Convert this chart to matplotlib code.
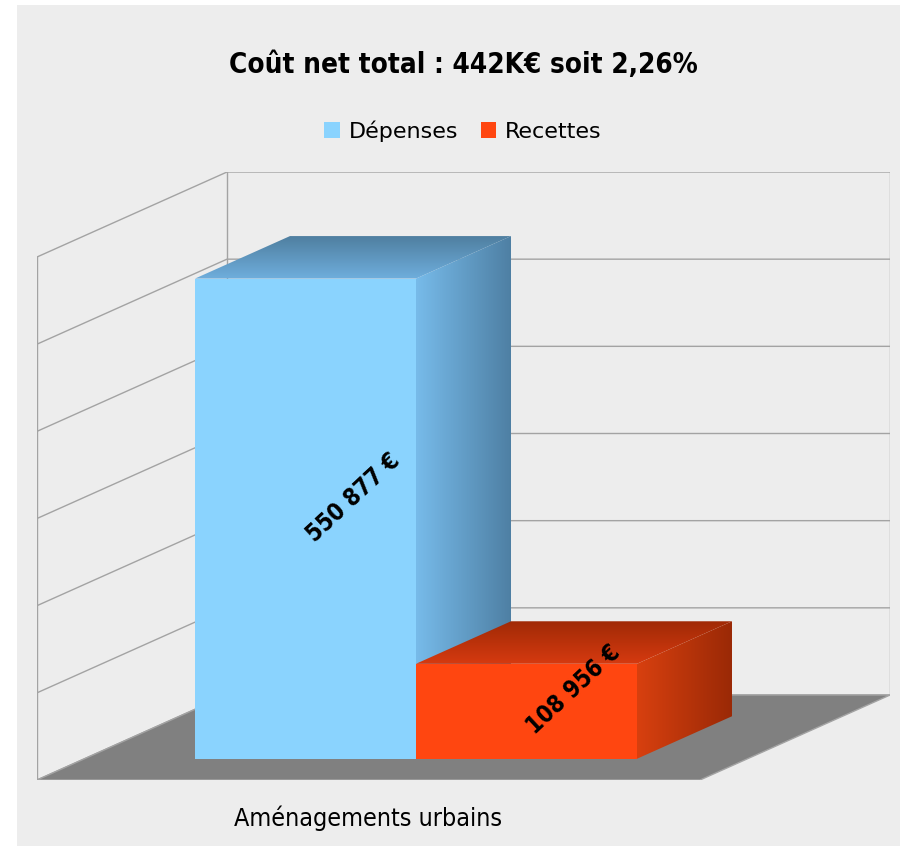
import numpy as np
import matplotlib.pyplot as plt
from matplotlib.patches import Polygon, Rectangle, Patch
from matplotlib.colors import LinearSegmentedColormap

title = 'Coût net total : 442K€ soit 2,26%'
category = 'Aménagements urbains'
series = ['Dépenses', 'Recettes']
values = [550877, 108956]
value_labels = ['550 877 €', '108 956 €']

front_colors = ['#8AD3FE', '#FF4610']
top_colors = [('#6FAEDD', '#4F7FA0'), ('#D63A10', '#A02A06')]
side_colors = [('#77BBEA', '#4E7FA3'), ('#D8400F', '#9A2906')]

ymax = 600000
ystep = 100000
DX = 190 / 663          # depth offset of the floor, in category units
DY = ymax * 85 / 523    # depth offset of the floor, in value units
BG = '#EDEDED'
GRID = '#A3A3A3'

plt.rcParams['font.family'] = ['DejaVu Sans']

fig = plt.figure(figsize=(9, 8.46), dpi=100, facecolor=BG)
fig.patches.append(Rectangle((0, 0), 17 / 900, 1, transform=fig.transFigure,
                             facecolor='white', edgecolor='none'))
fig.patches.append(Rectangle((0, 1 - 5 / 846), 1, 5 / 846, transform=fig.transFigure,
                             facecolor='white', edgecolor='none'))

ax = fig.add_axes([37 / 900, 66 / 846, 853 / 900, 608 / 846])
ax.set_facecolor('none')
ax.axis('off')


def P(x, v, d):
    return (x + d * DX, v + d * DY)


def grad_fill(verts, c0, c1, direction, z):
    poly = Polygon(verts, closed=True, facecolor='none', edgecolor='none', zorder=z)
    ax.add_patch(poly)
    xs = [p[0] for p in verts]
    ys = [p[1] for p in verts]
    if direction == 'x':
        arr = np.linspace(0, 1, 256)[None, :]
    else:
        arr = np.linspace(0, 1, 256)[:, None]
    cmap = LinearSegmentedColormap.from_list('g', [c0, c1])
    im = ax.imshow(arr, cmap=cmap, extent=(min(xs), max(xs), min(ys), max(ys)),
                   origin='lower', aspect='auto', interpolation='bilinear', zorder=z)
    im.set_clip_path(poly)


# walls + gridlines
for g in range(0, ymax + 1, ystep):
    a, b, c = P(0, g, 0), P(0, g, 1), P(1, g, 1)
    ax.plot([a[0], b[0], c[0]], [a[1], b[1], c[1]], color=GRID, lw=1, zorder=1)
for x, d0, d1 in [(0, 0, 0), (0, 1, 1), (1, 1, 1)]:
    a, b = P(x, 0, d0), P(x, ymax, d1)
    ax.plot([a[0], b[0]], [a[1], b[1]], color=GRID, lw=1, zorder=1)

# floor
floor = [P(0, 0, 0), P(1, 0, 0), P(1, 0, 1), P(0, 0, 1)]
ax.add_patch(Polygon(floor, closed=True, facecolor='#808080', edgecolor=GRID,
                     lw=1, zorder=2))

# bars
d0, d1 = 0.25, 0.75
for i, v in enumerate(values):
    x0 = 1 / 6 + i / 3
    x1 = x0 + 1 / 3
    z = 3 + i
    front = [P(x0, 0, d0), P(x1, 0, d0), P(x1, v, d0), P(x0, v, d0)]
    top = [P(x0, v, d0), P(x1, v, d0), P(x1, v, d1), P(x0, v, d1)]
    side = [P(x1, 0, d0), P(x1, 0, d1), P(x1, v, d1), P(x1, v, d0)]
    ax.add_patch(Polygon(front, closed=True, facecolor=front_colors[i],
                         edgecolor='none', zorder=z))
    grad_fill(top, top_colors[i][0], top_colors[i][1], 'y', z)
    grad_fill(side, side_colors[i][0], side_colors[i][1], 'x', z)
    cx, cy = P((x0 + x1) / 2, v / 2, 0.5)
    ax.text(cx, cy, value_labels[i], rotation=43, rotation_mode='anchor',
            ha='center', va='center', fontsize=17, fontweight='bold',
            fontstretch='condensed', color='black', zorder=10)

ax.set_xlim(0, 1 + DX)
ax.set_ylim(0, ymax + DY)

ax.annotate(category, xy=(0.5, 0), xycoords='data', xytext=(0, -27.5),
            textcoords='offset points', ha='center', va='center', fontsize=18,
            fontstretch='condensed')

fig.text(463 / 900, 1 - 65 / 846, title, ha='center', va='center',
         fontsize=20, fontweight='bold', fontstretch='condensed')

handles = [Patch(facecolor=c, edgecolor='none') for c in front_colors]
fig.legend(handles, series, loc='center', bbox_to_anchor=(463 / 900, 1 - 131 / 846),
           ncol=2, frameon=False, fontsize=16, handlelength=0.7, handleheight=0.7,
           handletextpad=0.4, columnspacing=1.0)

fig.savefig('out.png', dpi=100, facecolor=BG)
